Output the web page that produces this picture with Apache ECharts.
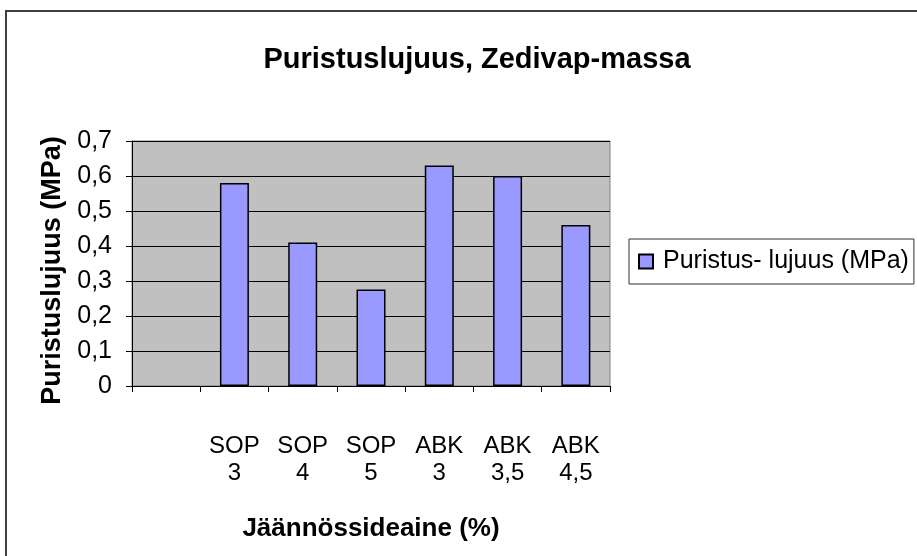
<!DOCTYPE html>
<html>
<head>
<meta charset="utf-8">
<script src="https://cdn.jsdelivr.net/npm/echarts@6/dist/echarts.min.js"></script>
<style>
html,body{margin:0;padding:0;background:#fff;}
#c{width:917px;height:556px;}
</style>
</head>
<body>
<div id="c"></div>
<script>
const categories = ['', 'SOP\n3', 'SOP\n4', 'SOP\n5', 'ABK\n3', 'ABK\n3,5', 'ABK\n4,5'];
const values = [null, 0.58, 0.41, 0.276, 0.63, 0.60, 0.46];
const yTicks = [0, 0.1, 0.2, 0.3, 0.4, 0.5, 0.6, 0.7];
const seriesName = 'Puristus- lujuus (MPa)';

const chart = echarts.init(document.getElementById('c'), null, {renderer: 'canvas'});
const font = 'Liberation Sans, Arial, sans-serif';
chart.setOption({
  animation: false,
  backgroundColor: '#fff',
  textStyle: {fontFamily: font},
  title: {
    text: 'Puristuslujuus, Zedivap-massa',
    left: 472, top: 40, textAlign: 'center',
    textStyle: {fontFamily: font, fontSize: 29, fontWeight: 'bold', color: '#000'}
  },
  graphic: [{
    type: 'rect', shape: {x: 6, y: 11, width: 1000, height: 1000},
    style: {fill: 'none', stroke: '#404040', lineWidth: 2}, silent: true, z: -1
  }],
  legend: {
    data: [seriesName],
    left: 629, top: 239,
    orient: 'vertical',
    backgroundColor: '#fff',
    borderColor: '#303030', borderWidth: 1,
    padding: [10, 5, 10, 9],
    itemWidth: 14, itemHeight: 14, itemGap: 0,
    icon: 'rect',
    textStyle: {fontFamily: font, fontSize: 25, color: '#000', padding: [0, 0, 0, 5]}
  },
  grid: {
    left: 132, top: 141, width: 478, height: 245,
    show: true, backgroundColor: '#c0c0c0', borderColor: '#808080', borderWidth: 1
  },
  xAxis: {
    type: 'category',
    data: categories,
    name: 'Jäännössideaine (%)',
    nameLocation: 'middle', nameGap: 130,
    nameTextStyle: {fontFamily: font, fontSize: 26, fontWeight: 'bold', color: '#000'},
    axisLine: {lineStyle: {color: '#000', width: 1}},
    axisTick: {show: true, interval: 0, alignWithLabel: false, length: 6, lineStyle: {color: '#000'}},
    axisLabel: {interval: 0, margin: 47, fontFamily: font, fontSize: 24, color: '#000', lineHeight: 27},
    splitLine: {show: false}
  },
  yAxis: {
    type: 'value',
    min: 0, max: 0.7, interval: 0.1,
    name: 'Puristuslujuus (MPa)',
    nameLocation: 'middle', nameGap: 66, nameRotate: 90,
    nameTextStyle: {fontFamily: font, fontSize: 27, fontWeight: 'bold', color: '#000', padding: [0, 14, 0, 0]},
    axisLine: {show: true, lineStyle: {color: '#000', width: 1}},
    axisTick: {show: true, length: 6, lineStyle: {color: '#000'}},
    axisLabel: {
      margin: 20, fontFamily: font, fontSize: 25, color: '#000',
      formatter: function (v) {
        const t = yTicks.find(x => Math.abs(x - v) < 1e-9);
        return t === 0 ? '0' : String(t).replace('.', ',');
      }
    },
    splitLine: {show: true, lineStyle: {color: '#000', width: 1}}
  },
  series: [{
    name: seriesName,
    type: 'bar',
    data: values,
    barWidth: 29,
    itemStyle: {color: '#9999ff', borderColor: '#000', borderWidth: 1.5}
  }]
});
</script>
</body>
</html>
